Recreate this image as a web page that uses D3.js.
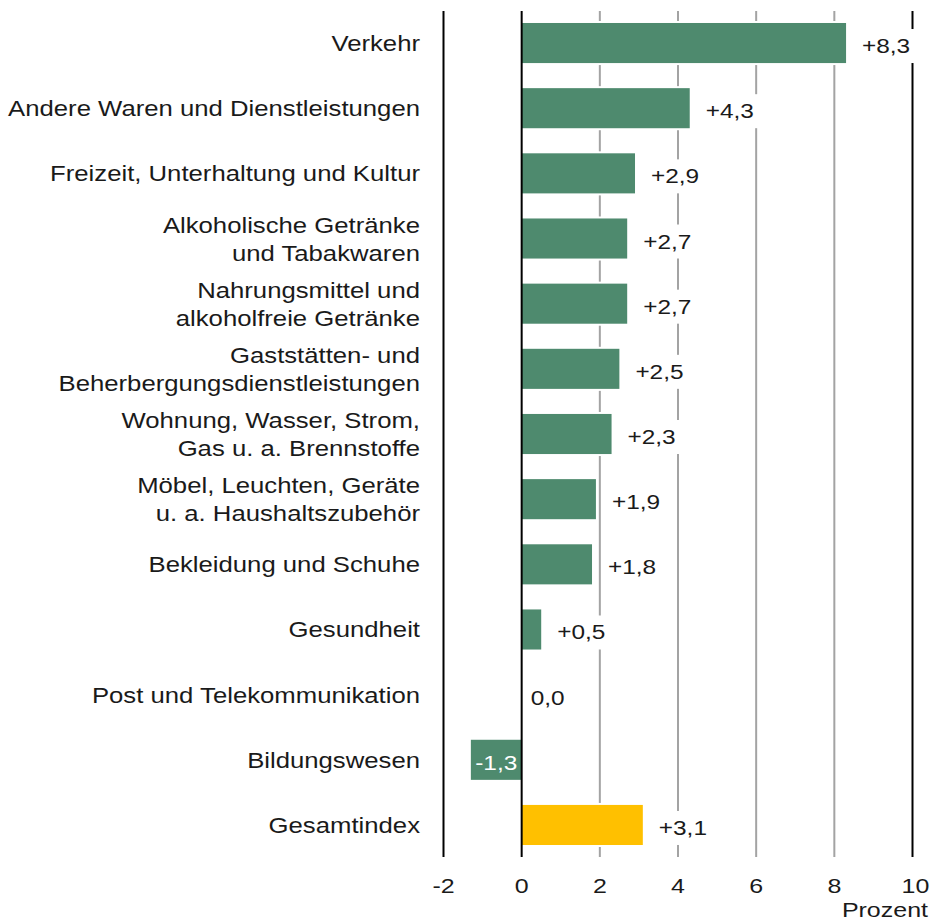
<!DOCTYPE html>
<html>
<head>
<meta charset="utf-8">
<script src="https://cdn.jsdelivr.net/npm/d3@7.9.0/dist/d3.min.js"></script>
<style>
  body { margin: 0; background: #fff; }
  text { font-family: "Liberation Sans", Arial, sans-serif; fill: #1a1a1a; }
</style>
</head>
<body>
<svg id="chart" width="931" height="924"></svg>
<script>
// data
const categories = [
  "Verkehr",
  "Andere Waren und Dienstleistungen",
  "Freizeit, Unterhaltung und Kultur",
  "Alkoholische Getränke\nund Tabakwaren",
  "Nahrungsmittel und\nalkoholfreie Getränke",
  "Gaststätten- und\nBeherbergungsdienstleistungen",
  "Wohnung, Wasser, Strom,\nGas u. a. Brennstoffe",
  "Möbel, Leuchten, Geräte\nu. a. Haushaltszubehör",
  "Bekleidung und Schuhe",
  "Gesundheit",
  "Post und Telekommunikation",
  "Bildungswesen",
  "Gesamtindex"
];
const values = [8.3, 4.3, 2.9, 2.7, 2.7, 2.5, 2.3, 1.9, 1.8, 0.5, 0.0, -1.3, 3.1];
const highlighted = ["Gesamtindex"];
const xTicks = [-2, 0, 2, 4, 6, 8, 10];
const strongTicks = [-2, 0, 10];
const unitLabel = "Prozent";

const green = "#4e8a6e";
const yellow = "#ffc000";
const SX = 1.19; // the original text is stretched horizontally

const data = categories.map((c, i) => ({ name: c, value: values[i] }));

const svg = d3.select("#chart");

const x = d3.scaleLinear().domain([-2, 10]).range([443.5, 912.5]);
const y = d3.scaleBand()
  .domain(categories)
  .range([11, 857])
  .paddingInner(0.385)
  .paddingOuter(0.184);

const fmt = v => (v > 0 ? "+" : "") + v.toFixed(1).replace(".", ",");

// --- grid lines (grey ones first) ---
svg.append("g").selectAll("line")
  .data(xTicks.filter(t => !strongTicks.includes(t)))
  .join("line")
  .attr("x1", d => x(d)).attr("x2", d => x(d))
  .attr("y1", 11).attr("y2", 857)
  .attr("stroke", "#a3a3a3")
  .attr("stroke-width", 2);

// --- bars, with a thin white halo ---
svg.append("g").selectAll("rect")
  .data(data.filter(d => d.value !== 0))
  .join("rect")
  .attr("x", d => x(Math.min(0, d.value)))
  .attr("width", d => Math.abs(x(d.value) - x(0)))
  .attr("y", d => y(d.name))
  .attr("height", y.bandwidth())
  .attr("fill", d => highlighted.includes(d.name) ? yellow : green)
  .attr("stroke", "#fff")
  .attr("stroke-width", 4)
  .style("paint-order", "stroke");

// --- black frame lines ---
svg.append("g").selectAll("line")
  .data(strongTicks)
  .join("line")
  .attr("x1", d => x(d)).attr("x2", d => x(d))
  .attr("y1", 11).attr("y2", 857)
  .attr("stroke", "#000")
  .attr("stroke-width", 2);

// --- category labels ---
const catG = svg.append("g");
data.forEach(d => {
  const lines = d.name.split("\n");
  const cy = y(d.name) + y.bandwidth() / 2;
  const lh = 28;
  lines.forEach((ln, j) => {
    const ty = cy + (j - (lines.length - 1) / 2) * lh + 8;
    catG.append("text")
      .attr("transform", `translate(420,${ty}) scale(${SX},1)`)
      .attr("text-anchor", "end")
      .style("font-size", "21.6px")
      .text(ln);
  });
});

// --- value labels ---
const valG = svg.append("g");
data.forEach(d => {
  const cy = y(d.name) + y.bandwidth() / 2 + 3;
  if (d.value < 0) {
    const cx = (x(d.value) + x(0)) / 2;
    valG.append("text")
      .attr("transform", `translate(${cx},${cy + 7}) scale(${SX},1)`)
      .attr("text-anchor", "middle")
      .style("font-size", "20.5px")
      .style("fill", "#fff")
      .text(fmt(d.value));
    return;
  }
  const x0 = x(d.value) + (d.value === 0 ? 9 : 16);
  const g = valG.append("g");
  const box = g.append("rect").attr("fill", "#fff");
  const t = g.append("text")
    .attr("transform", `translate(${x0},${cy + 7}) scale(${SX},1)`)
    .style("font-size", "20.5px")
    .text(fmt(d.value));
  const w = t.node().getComputedTextLength() * SX;
  box.attr("x", x0 - 6).attr("y", cy - 17)
    .attr("width", w + 12).attr("height", 34);
});

// --- x axis tick labels ---
svg.append("g").selectAll("text")
  .data(xTicks)
  .join("text")
  .attr("transform", d => `translate(${x(d) + (d === 10 ? 3 : 0)},893) scale(${SX},1)`)
  .attr("text-anchor", "middle")
  .style("font-size", "21px")
  .text(d => d);

svg.append("text")
  .attr("transform", `translate(928,917) scale(${SX},1)`)
  .attr("text-anchor", "end")
  .style("font-size", "21px")
  .text(unitLabel);
</script>
</body>
</html>
